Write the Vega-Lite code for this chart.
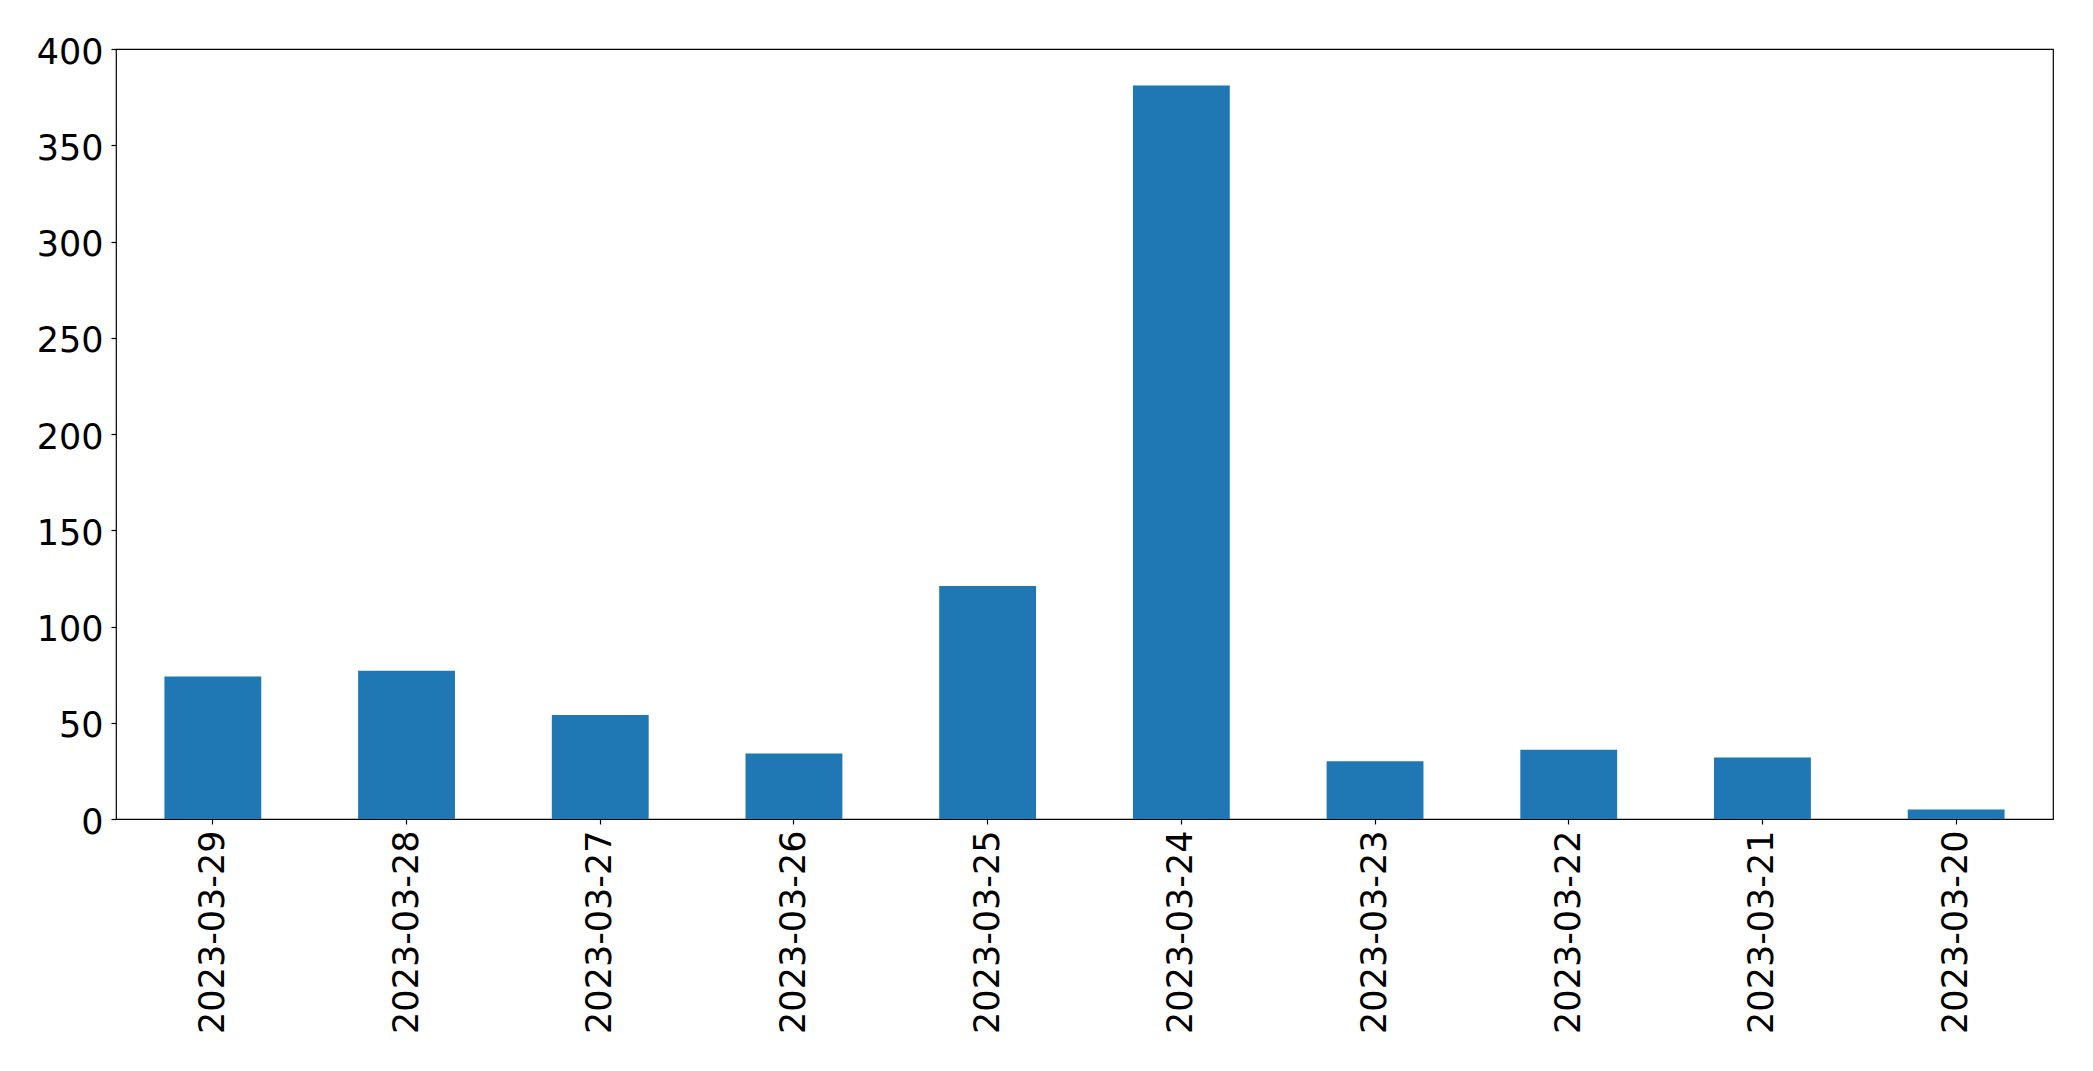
{
  "$schema": "https://vega.github.io/schema/vega-lite/v6.json",
  "autosize": {"type": "none"},
  "width": 1937,
  "height": 770,
  "padding": {"left": 116, "top": 49, "right": 40, "bottom": 252},
  "background": "white",
  "config": {
    "font": "DejaVu Sans",
    "view": {"stroke": "black", "strokeWidth": 1.2},
    "axis": {
      "grid": false,
      "domain": false,
      "tickColor": "black",
      "tickSize": 5,
      "tickWidth": 1.2,
      "labelColor": "black",
      "labelFont": "DejaVu Sans",
      "labelFontSize": 35,
      "labelLimit": 0,
      "title": null
    }
  },
  "data": {
    "values": [
      {"date": "2023-03-29", "count": 74},
      {"date": "2023-03-28", "count": 77},
      {"date": "2023-03-27", "count": 54},
      {"date": "2023-03-26", "count": 34},
      {"date": "2023-03-25", "count": 121},
      {"date": "2023-03-24", "count": 381},
      {"date": "2023-03-23", "count": 30},
      {"date": "2023-03-22", "count": 36},
      {"date": "2023-03-21", "count": 32},
      {"date": "2023-03-20", "count": 5}
    ]
  },
  "mark": {"type": "bar", "color": "#1f77b4"},
  "encoding": {
    "x": {
      "field": "date",
      "type": "nominal",
      "sort": null,
      "scale": {"paddingInner": 0.5, "paddingOuter": 0.25},
      "axis": {"labelAngle": -90, "labelAlign": "right", "labelBaseline": "middle", "labelPadding": 6}
    },
    "y": {
      "field": "count",
      "type": "quantitative",
      "scale": {"domain": [0, 400], "nice": false},
      "axis": {"values": [0, 50, 100, 150, 200, 250, 300, 350, 400], "labelPadding": 8, "labelOffset": 3}
    }
  }
}
